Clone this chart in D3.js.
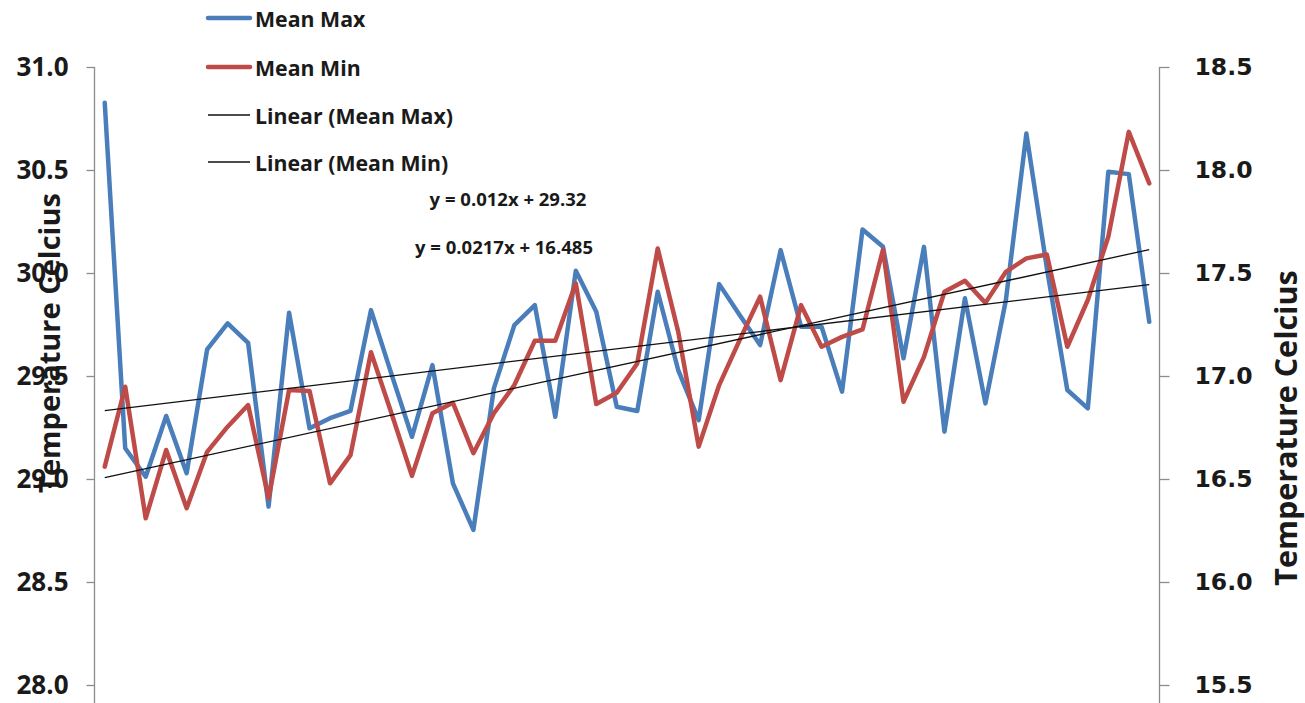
<!DOCTYPE html>
<html><head><meta charset="utf-8">
<script src="https://cdn.jsdelivr.net/npm/d3@7/dist/d3.min.js"></script>
<style>
html,body{margin:0;padding:0;background:#fff;}
svg{display:block;}
</style>
</head><body>
<svg id="chart" width="1305" height="703"></svg>
<script>
// ---- data ----
const years = d3.range(1, 53);
const meanMax = [30.826,29.149,29.011,29.306,29.028,29.629,29.755,29.661,28.866,
  29.807,29.246,29.295,29.331,29.820,29.509,29.205,29.553,28.979,
  28.753,29.440,29.747,29.844,29.302,30.011,29.812,29.351,29.330,
  29.909,29.529,29.286,29.946,29.796,29.650,30.111,29.739,29.739,
  29.424,30.211,30.127,29.586,30.127,29.230,29.877,29.367,29.869,
  30.677,30.024,29.432,29.343,30.491,30.480,29.763];
const meanMin = [16.560,16.948,16.309,16.641,16.358,16.632,16.754,16.859,16.406,
  16.932,16.927,16.479,16.616,17.115,16.819,16.515,16.819,16.870,
  16.625,16.819,16.956,17.171,17.171,17.450,16.864,16.919,17.061,
  17.619,17.215,16.657,16.956,17.174,17.385,16.980,17.344,17.142,
  17.190,17.226,17.614,16.875,17.093,17.409,17.462,17.355,17.506,
  17.571,17.590,17.142,17.369,17.676,18.185,17.935];
const leftTicks = [28.0, 28.5, 29.0, 29.5, 30.0, 30.5, 31.0];
const rightTicks = [15.5, 16.0, 16.5, 17.0, 17.5, 18.0, 18.5];
const trendMax = [0.012, 29.32];    // slope, intercept
const trendMin = [0.0217, 16.485];
const equations = ["y = 0.012x + 29.32", "y = 0.0217x + 16.485"];
const legendLabels = ["Mean Max", "Mean Min", "Linear (Mean Max)", "Linear (Mean Min)"];
const axisTitle = "Temperature Celcius";

// ---- drawing ----
const blue = "#4a7ebb", red = "#be4b48", axisGray = "#8c8c8c";
const svg = d3.select("#chart");
const x = d3.scalePoint().domain(years).range([94.5, 1159.5]).padding(0.5);
const yL = d3.scaleLinear().domain([28, 31]).range([685, 67]);
const yR = d3.scaleLinear().domain([15.5, 18.5]).range([685, 67]);

// axes
const gL = svg.append("g").attr("transform", "translate(94.5,0)")
  .call(d3.axisLeft(yL).tickValues(leftTicks).tickFormat(d3.format(".1f")).tickSize(8).tickSizeOuter(0).tickPadding(18));
const gR = svg.append("g").attr("transform", "translate(1159.5,0)")
  .call(d3.axisRight(yR).tickValues(rightTicks).tickFormat(d3.format(".1f")).tickSize(10).tickSizeOuter(0).tickPadding(25));
[gL, gR].forEach(g => {
  g.select(".domain").remove();
  g.selectAll(".tick line").attr("stroke", axisGray).attr("stroke-width", 1.3);
  g.append("line").attr("x1", 0).attr("x2", 0).attr("y1", 67).attr("y2", 703)
    .attr("stroke", axisGray).attr("stroke-width", 1.3);
});
gL.selectAll(".tick text").attr("font-family", "'Open Sans', sans-serif").attr("font-weight", "bold")
  .attr("font-size", 26).attr("fill", "#1a1a1a");
gR.selectAll(".tick text").attr("font-family", "'DejaVu Sans', sans-serif").attr("font-weight", "bold")
  .attr("font-size", 23.5).attr("fill", "#1a1a1a");

// axis titles
svg.append("text").attr("transform", "translate(48,343) rotate(-90)")
  .attr("text-anchor", "middle").attr("dominant-baseline", "central")
  .attr("font-family", "'Open Sans', sans-serif").attr("font-weight", "bold").attr("font-size", 29)
  .attr("fill", "#1a1a1a").text(axisTitle);
svg.append("text").attr("transform", "translate(1285,428) rotate(-90)")
  .attr("text-anchor", "middle").attr("dominant-baseline", "central")
  .attr("font-family", "'Open Sans', sans-serif").attr("font-weight", "bold").attr("font-size", 30.5)
  .attr("fill", "#1a1a1a").text(axisTitle);

// series
const lineL = d3.line().x((d, i) => x(years[i])).y(d => yL(d));
const lineR = d3.line().x((d, i) => x(years[i])).y(d => yR(d));
svg.append("path").datum(meanMax).attr("d", lineL).attr("fill", "none")
  .attr("stroke", blue).attr("stroke-width", 4.5).attr("stroke-linejoin", "round").attr("stroke-linecap", "round");
svg.append("path").datum(meanMin).attr("d", lineR).attr("fill", "none")
  .attr("stroke", red).attr("stroke-width", 4.5).attr("stroke-linejoin", "round").attr("stroke-linecap", "round");

// trend lines
const ends = [years[0], years[years.length - 1]];
svg.append("path").datum(ends).attr("fill", "none").attr("stroke", "#111").attr("stroke-width", 1.3)
  .attr("d", d3.line().x(d => x(d)).y(d => yL(trendMax[0] * d + trendMax[1])));
svg.append("path").datum(ends).attr("fill", "none").attr("stroke", "#111").attr("stroke-width", 1.3)
  .attr("d", d3.line().x(d => x(d)).y(d => yR(trendMin[0] * d + trendMin[1])));

// equations
svg.append("text").attr("x", 508).attr("y", 198).attr("text-anchor", "middle").attr("dominant-baseline", "central")
  .attr("font-family", "'Open Sans', sans-serif").attr("font-weight", "bold").attr("font-size", 18.5)
  .attr("fill", "#1a1a1a").text(equations[0]);
svg.append("text").attr("x", 504).attr("y", 246).attr("text-anchor", "middle").attr("dominant-baseline", "central")
  .attr("font-family", "'Open Sans', sans-serif").attr("font-weight", "bold").attr("font-size", 18.5)
  .attr("fill", "#1a1a1a").text(equations[1]);

// legend
const legY = [18, 67, 115, 162];
const legStyle = [[blue, 4.5], [red, 4.5], ["#111", 1.3], ["#111", 1.3]];
const leg = svg.append("g");
legendLabels.forEach((lab, i) => {
  leg.append("line").attr("x1", 208).attr("x2", 250).attr("y1", legY[i]).attr("y2", legY[i])
    .attr("stroke", legStyle[i][0]).attr("stroke-width", legStyle[i][1]).attr("stroke-linecap", i < 2 ? "round" : "butt");
  leg.append("text").attr("x", 255).attr("y", legY[i]).attr("dominant-baseline", "central")
    .attr("font-family", "'Open Sans', sans-serif").attr("font-weight", "bold").attr("font-size", 21.3)
    .attr("fill", "#1a1a1a").text(lab);
});
</script>
</body></html>
